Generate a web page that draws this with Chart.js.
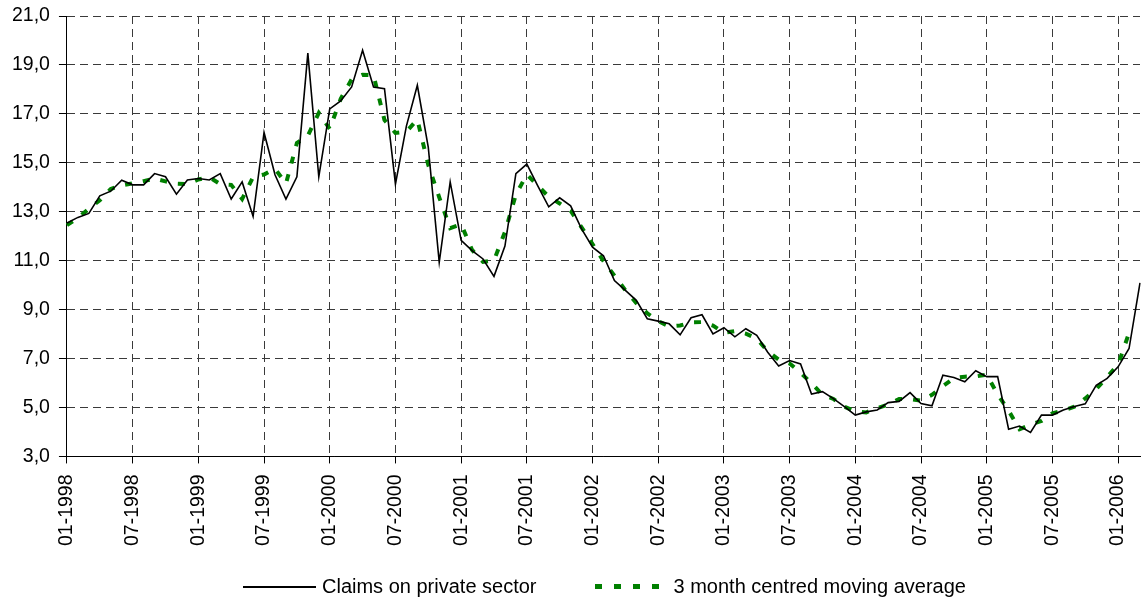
<!DOCTYPE html>
<html>
<head>
<meta charset="utf-8">
<script src="https://cdn.jsdelivr.net/npm/chart.js@4.4.1/dist/chart.umd.min.js"></script>
<style>
    body { margin: 0; background: #fff; }
    #wrap { position: relative; width: 1142px; height: 600px; }
    #legend {
        position: absolute; left: 243px; top: 575px;
        display: flex; align-items: center;
        font-family: "Liberation Sans", Arial, sans-serif; font-size: 20px; color: #000;
    }
    .sample-line { width: 73px; height: 2px; background: #000; margin-right: 6px; }
    .sample-dots {
        width: 64px; height: 5px; margin-left: 58px; margin-right: 15px;
        background: repeating-linear-gradient(to right, #008000 0 7px, transparent 7px 19px);
    }
</style>
</head>
<body>
<div id="wrap">
    <canvas id="claimsChart" width="1142" height="600"></canvas>
    <div id="legend">
        <div class="sample-line"></div><span>Claims on private sector</span>
        <div class="sample-dots"></div><span>3 month centred moving average</span>
    </div>
</div>
<script>
// monthly series, 01-1998 .. 03-2006 (annual growth, %)
const startYear = 1998;
const monthCount = 99;

const claims = [
    12.54, 12.77, 12.93, 13.65, 13.84, 14.29, 14.10, 14.10, 14.56, 14.43, 13.72, 14.30,
    14.36, 14.30, 14.56, 13.52, 14.22, 12.81, 16.24, 14.51, 13.52, 14.43, 19.48, 14.43,
    17.20, 17.53, 18.10, 19.60, 18.10, 18.03, 14.13, 16.50, 18.17, 15.63, 10.93, 14.22,
    11.83, 11.41, 11.07, 10.36, 11.60, 14.56, 14.95, 14.06, 13.20, 13.57, 13.24, 12.30,
    11.55, 11.20, 10.19, 9.79, 9.38, 8.63, 8.53, 8.42, 7.97, 8.67, 8.79, 8.01,
    8.26, 7.89, 8.22, 7.95, 7.26, 6.70, 6.92, 6.78, 5.55, 5.65, 5.36, 5.04,
    4.69, 4.82, 4.90, 5.20, 5.25, 5.61, 5.16, 5.07, 6.32, 6.23, 6.05, 6.50,
    6.26, 6.26, 4.11, 4.24, 3.98, 4.69, 4.69, 4.90, 5.04, 5.15, 5.91, 6.19,
    6.66, 7.41, 10.09
];

const movingAvg = [
    12.45, 12.75, 13.12, 13.47, 13.93, 14.08, 14.16, 14.25, 14.36, 14.24, 14.15, 14.13,
    14.32, 14.41, 14.13, 14.10, 13.52, 14.42, 14.52, 14.76, 14.15, 15.81, 16.11, 17.04,
    16.39, 17.61, 18.41, 18.60, 18.58, 16.75, 16.22, 16.27, 16.77, 14.91, 13.59, 12.33,
    12.49, 11.44, 10.95, 11.01, 12.17, 13.70, 14.52, 14.07, 13.61, 13.34, 13.04, 12.36,
    11.68, 10.98, 10.39, 9.79, 9.27, 8.85, 8.53, 8.31, 8.35, 8.48, 8.49, 8.35,
    8.05, 8.12, 8.02, 7.81, 7.30, 6.96, 6.80, 6.42, 5.99, 5.52, 5.35, 5.03,
    4.85, 4.80, 4.97, 5.12, 5.35, 5.34, 5.28, 5.52, 5.87, 6.20, 6.26, 6.27,
    6.34, 5.54, 4.87, 4.11, 4.30, 4.45, 4.76, 4.88, 5.03, 5.37, 5.75, 6.25,
    6.75, 8.05, null
];

// category labels "MM-YYYY"
const months = [];
for (let i = 0; i < monthCount; i++) {
    const m = i % 12 + 1;
    months.push((m < 10 ? "0" + m : "" + m) + "-" + (startYear + Math.floor(i / 12)));
}

const yTicks = { min: 3, max: 21, step: 2 };
const labelEvery = 6;

const tickFont = { family: "'Liberation Sans', Arial, sans-serif", size: 19.5 };
const gridColor = "#3a3a3a";

new Chart(document.getElementById("claimsChart").getContext("2d"), {
    type: "line",
    data: {
        labels: months,
        datasets: [
            {
                label: "Claims on private sector",
                data: claims,
                borderColor: "#000",
                backgroundColor: "#000",
                borderWidth: 1.6,
                pointRadius: 0,
                tension: 0,
                order: 1
            },
            {
                label: "3 month centred moving average",
                data: movingAvg,
                borderColor: "#008000",
                backgroundColor: "#008000",
                borderWidth: 4,
                borderDash: [7, 11],
                pointRadius: 0,
                tension: 0,
                order: 2
            }
        ]
    },
    options: {
        responsive: false,
        animation: false,
        layout: { padding: { left: 3, right: 2, top: 16, bottom: 43 } },
        plugins: {
            legend: { display: false },
            tooltip: { enabled: false }
        },
        scales: {
            x: {
                offset: false,
                afterFit: scale => { scale.paddingLeft = 0; scale.paddingRight = 0; },
                ticks: {
                    autoSkip: false,
                    minRotation: 90,
                    maxRotation: 90,
                    padding: 11,
                    color: "#000",
                    font: tickFont,
                    callback: function (value, index) {
                        return index % labelEvery === 0 ? months[index] : null;
                    }
                },
                grid: {
                    color: gridColor,
                    tickColor: "#000",
                    tickLength: 7,
                    lineWidth: 1
                },
                border: { display: true, color: "#000", width: 1, dash: [8, 5] }
            },
            y: {
                min: yTicks.min,
                max: yTicks.max,
                afterFit: scale => { scale.paddingTop = 0; scale.paddingBottom = 0; },
                ticks: {
                    stepSize: yTicks.step,
                    padding: 9,
                    color: "#000",
                    font: tickFont,
                    callback: v => v.toFixed(1).replace(".", ",")
                },
                grid: {
                    color: gridColor,
                    tickColor: "#000",
                    tickLength: 8,
                    lineWidth: 1
                },
                border: { display: true, color: "#000", width: 1, dash: [8, 5] }
            }
        }
    }
});
</script>
</body>
</html>
